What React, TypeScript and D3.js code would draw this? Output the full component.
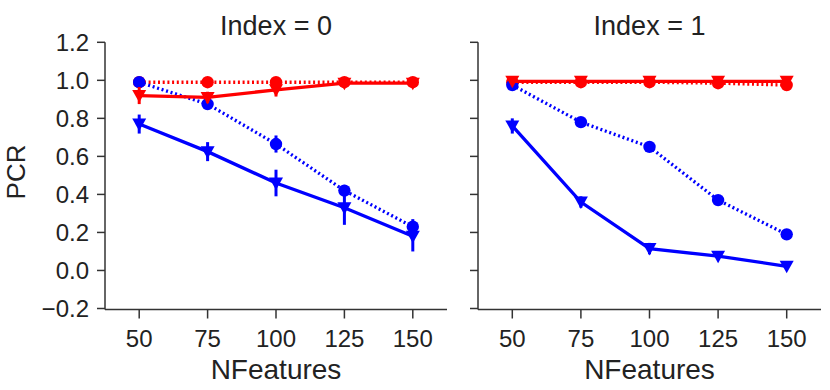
import React from "react"
import * as d3 from "d3"

const width = 830
const height = 390

const nFeatures = [50, 75, 100, 125, 150]
const yTicks = [-0.2, 0.0, 0.2, 0.4, 0.6, 0.8, 1.0, 1.2]
const titles = ["Index = 0", "Index = 1"]

// Index = 0
const redCircle0 = [0.99, 0.99, 0.99, 0.99, 0.99]
const redCircleErr0 = [0.01, 0.01, 0.01, 0.01, 0.01]
const redTri0 = [0.92, 0.91, 0.95, 0.985, 0.985]
const redTriErr0 = [0.045, 0.03, 0.035, 0.015, 0.01]
const blueCircle0 = [0.99, 0.875, 0.665, 0.42, 0.23]
const blueCircleErr0 = [0.01, 0.02, 0.045, 0.03, 0.04]
const blueTri0 = [0.77, 0.625, 0.46, 0.33, 0.18]
const blueTriErr0 = [0.05, 0.05, 0.07, 0.09, 0.08]

// Index = 1
const redCircle1 = [0.99, 0.99, 0.99, 0.985, 0.975]
const redCircleErr1 = [0.005, 0.005, 0.005, 0.005, 0.01]
const redTri1 = [0.995, 0.995, 0.995, 0.995, 0.995]
const redTriErr1 = [0.005, 0.005, 0.005, 0.005, 0.005]
const blueCircle1 = [0.975, 0.78, 0.65, 0.37, 0.19]
const blueCircleErr1 = [0.01, 0.01, 0.02, 0.01, 0.01]
const blueTri1 = [0.76, 0.36, 0.115, 0.075, 0.022]
const blueTriErr1 = [0.04, 0.03, 0.03, 0.01, 0.01]

const font = "'Liberation Sans', Arial, sans-serif"
const axisColor = "#333"
const textColor = "#222"
const lw = 3.3

const y = d3.scaleLinear().domain([-0.2, 1.2]).range([308.5, 42.3])

const panels = [
  {
    title: titles[0],
    range: [105, 447],
    labels: true,
    series: [
      { v: redCircle0, e: redCircleErr0, color: "#ff0000", dotted: true, marker: "circle" },
      { v: blueCircle0, e: blueCircleErr0, color: "#0000ff", dotted: true, marker: "circle" },
      { v: blueTri0, e: blueTriErr0, color: "#0000ff", dotted: false, marker: "tri" },
      { v: redTri0, e: redTriErr0, color: "#ff0000", dotted: false, marker: "tri" },
    ],
  },
  {
    title: titles[1],
    range: [478, 821],
    labels: false,
    series: [
      { v: redCircle1, e: redCircleErr1, color: "#ff0000", dotted: true, marker: "circle" },
      { v: blueCircle1, e: blueCircleErr1, color: "#0000ff", dotted: true, marker: "circle" },
      { v: blueTri1, e: blueTriErr1, color: "#0000ff", dotted: false, marker: "tri" },
      { v: redTri1, e: redTriErr1, color: "#ff0000", dotted: false, marker: "tri" },
    ],
  },
]

const triPath = "M-7,-5.5 L7,-5.5 L0,7 Z"

const Panel = ({ p }) => {
  const x = d3.scaleLinear().domain([37.5, 162.5]).range(p.range)
  const [x0, x1] = p.range
  const yb = y(-0.2) + 1
  const line = d3.line<number>()
    .x((_, i) => x(nFeatures[i]))
    .y(d => y(d))
  return (
    <g>
      <text x={(x0 + x1) / 2} y={35} textAnchor="middle" fontSize={27} fill={textColor} fontFamily={font}>{p.title}</text>
      {/* axes */}
      <line x1={x0} x2={x0} y1={y(1.2)} y2={yb} stroke={axisColor} strokeWidth={1.5} />
      <line x1={x0} x2={x1} y1={yb} y2={yb} stroke={axisColor} strokeWidth={1.5} />
      {yTicks.map(t => (
        <g key={t}>
          <line x1={x0 - 8} x2={x0} y1={y(t)} y2={y(t)} stroke={axisColor} strokeWidth={1.5} />
          {p.labels && (
            <text x={x0 - 16} y={y(t) + 8.5} textAnchor="end" fontSize={24} fill={textColor} fontFamily={font}>
              {t < 0 ? "\u2212" + Math.abs(t).toFixed(1) : t.toFixed(1)}
            </text>
          )}
        </g>
      ))}
      {nFeatures.map(t => (
        <g key={t}>
          <line x1={x(t)} x2={x(t)} y1={yb} y2={yb + 9} stroke={axisColor} strokeWidth={1.5} />
          <text x={x(t)} y={347} textAnchor="middle" fontSize={24} fill={textColor} fontFamily={font}>{t}</text>
        </g>
      ))}
      <text x={(x0 + x1) / 2} y={379} textAnchor="middle" fontSize={28} fill={textColor} fontFamily={font}>NFeatures</text>
      {/* series */}
      {p.series.map((s, si) => (
        <g key={si}>
          <path d={line(s.v)} fill="none" stroke={s.color} strokeWidth={lw}
            strokeDasharray={s.dotted ? "2,2.7" : undefined} />
          {s.v.map((v, i) => (
            <line key={"e" + i} x1={x(nFeatures[i])} x2={x(nFeatures[i])}
              y1={y(v - s.e[i])} y2={y(v + s.e[i])} stroke={s.color} strokeWidth={3} />
          ))}
          {s.v.map((v, i) => s.marker === "circle"
            ? <circle key={"m" + i} cx={x(nFeatures[i])} cy={y(v)} r={6.2} fill={s.color} />
            : <path key={"m" + i} d={triPath} transform={`translate(${x(nFeatures[i])},${y(v)})`} fill={s.color} />
          )}
        </g>
      ))}
    </g>
  )
}

const App = () => (
  <svg width={width} height={height} style={{ position: "absolute", left: 0, top: 0, background: "#fff" }}>
    <text transform="translate(25,172) rotate(-90)" textAnchor="middle" fontSize={26} fill={textColor} fontFamily={font}>PCR</text>
    {panels.map((p, i) => <Panel key={i} p={p} />)}
  </svg>
)

export default App
